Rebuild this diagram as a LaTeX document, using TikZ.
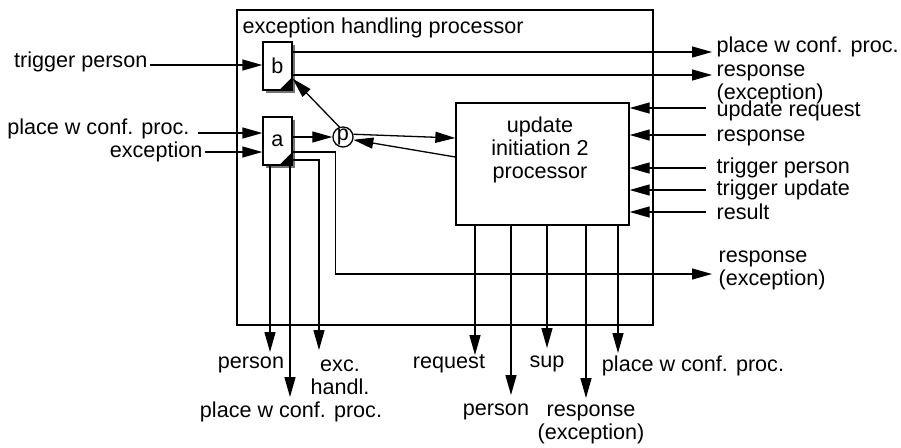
\documentclass[tikz,border=0pt]{standalone}
\usepackage{fontspec}
\setmainfont{Liberation Sans}
\usetikzlibrary{positioning, arrows.meta, shadows}

\begin{document}
\begin{tikzpicture}[
        x=0.5pt, y=-0.5pt,
        line width=0.65pt,
        font=\fontsize{10.8}{11.5}\selectfont,
        lbl/.style   = {inner sep=0pt, align=left},
        cbox/.style  = {draw, fill=white, minimum width=14.5pt, minimum height=24pt, inner sep=0pt,
                        drop shadow={opacity=1, fill=black!55, shadow xshift=1.3pt, shadow yshift=-1.3pt}},
        arrow/.style = {-{Triangle[length=10pt, width=5.5pt]}},
    ]
        \useasboundingbox (0,0) rectangle (901,447);

        %---- processors ----
        \node[draw, minimum width=208pt, minimum height=157.5pt, inner sep=0pt] (ehp) at (445,167.5) {};
        \node[lbl, anchor=west] (ehpt) at (242,28) {exception handling processor};
        \node[cbox] (b) at (277.5,66) {b};
        \node[cbox] (a) at (277.5,141) {a};
        \foreach \n in {a,b}
            \fill (\n.south east) -- ([yshift=7pt]\n.south east) -- ([xshift=-7pt]\n.south east) -- cycle;
        \node[draw, circle, fill=white, minimum size=9pt, inner sep=0pt] (p) at (343,137) {p};
        \node[draw, fill=white, minimum width=86.5pt, minimum height=61pt] (upd) at (542.5,164) {};
        \node[lbl, align=center] (updt) at (540,150) {update\\initiation 2\\processor};

        %---- inputs, left ----
        \coordinate (itp)  at (150,65);
        \coordinate (ipwc) at (198,133);
        \coordinate (iexc) at (205,152);
        \node[lbl, anchor=east] (itpl)  at (148,62)  {trigger person};
        \node[lbl, anchor=east] (ipwcl) at (190,129) {place w conf. proc.};
        \node[lbl, anchor=east] (iexcl) at (203,152) {exception};
        \draw[arrow] (itp) -- (itp -| b.west);
        \draw[arrow] (ipwc) -- (ipwc -| a.west);
        \draw[arrow] (iexc) -- (iexc -| a.west);

        %---- outputs of b ----
        \coordinate (obpwc) at (712,52);
        \coordinate (obrsp) at (712,75);
        \node[lbl, anchor=west] (obpwcl) at (716,47) {place w conf. proc.};
        \node[lbl, anchor=west] (obrspl) at (716,84) {response\\(exception)};
        \draw[arrow] (obpwc -| b.east) -- (obpwc);
        \draw[arrow] (obrsp -| b.east) -- (obrsp);

        %---- p ----
        \draw[arrow] (a.east |- p.west) -- (p.west);
        \draw[arrow] (p.110) -- ([yshift=6pt]b.south east);
        \draw[arrow] (p.15) -- ([yshift=13pt]upd.west);
        \draw[arrow] ([yshift=3.5pt]upd.west) -- (p.-15);

        %---- inputs of update, right ----
        \coordinate (iur)  at (706,108);
        \coordinate (irsp) at (706,135);
        \coordinate (iutp) at (706,168);
        \coordinate (iutu) at (706,190);
        \coordinate (ires) at (706,212);
        \node[lbl, anchor=west] (iurl)  at (716,111) {update request};
        \node[lbl, anchor=west] (irspl) at (716,138) {response};
        \node[lbl, anchor=west] (iutpl) at (716,168) {trigger person};
        \node[lbl, anchor=west] (iutul) at (716,190) {trigger update};
        \node[lbl, anchor=west] (iresl) at (716,212) {result};
        \foreach \c in {iur,irsp,iutp,iutu,ires}
            \draw[arrow] (\c) -- (\c -| upd.east);

        %---- outputs of a ----
        \coordinate (oarsp) at (712,274);
        \coordinate (oahx)  at (319,350);
        \coordinate (oaper) at (270,352);
        \coordinate (oapwc) at (290,397);
        \draw[arrow] ([yshift=-5.5pt]a.east) -- ++(43,0) |- (oarsp);
        \draw[arrow] ([yshift=-9.5pt]a.east) -| (oahx);
        \draw[arrow] (a.south -| oaper) -- (oaper);
        \draw[arrow] (a.south -| oapwc) -- (oapwc);
        \node[lbl, anchor=west] (oarspl) at (718,270) {response\\(exception)};
        \node[lbl, align=center] (oahxl) at (340,377) {exc.\\handl.};
        \node[lbl] (oaperl) at (251,365) {person};
        \node[lbl] (oapwcl) at (291,412) {place w conf. proc.};

        %---- outputs of update ----
        \coordinate (oureq) at (475,355);
        \coordinate (ouper) at (511,395);
        \coordinate (ousup) at (547,348);
        \coordinate (oursp) at (586,398);
        \coordinate (oupwc) at (618,353);
        \foreach \c in {oureq,ouper,ousup,oursp,oupwc}
            \draw[arrow] (upd.south -| \c) -- (\c);
        \node[lbl] (oureql) at (449,364) {request};
        \node[lbl] (ouperl) at (496,412) {person};
        \node[lbl] (ousupl) at (547,364) {sup};
        \node[lbl, align=center] (ourspl) at (591,424) {response\\(exception)};
        \node[lbl] (oupwcl) at (693,366) {place w conf. proc.};
    \end{tikzpicture}
\end{document}
